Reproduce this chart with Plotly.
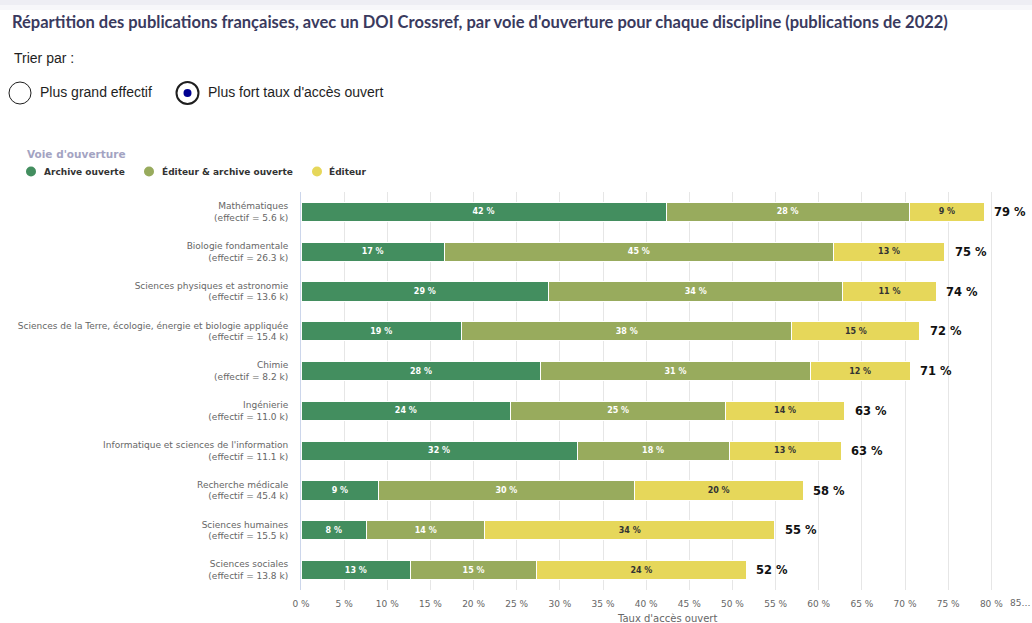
import plotly.graph_objects as go

# ---------------- data ----------------
disciplines = [
    "Mathématiques",
    "Biologie fondamentale",
    "Sciences physiques et astronomie",
    "Sciences de la Terre, écologie, énergie et biologie appliquée",
    "Chimie",
    "Ingénierie",
    "Informatique et sciences de l'information",
    "Recherche médicale",
    "Sciences humaines",
    "Sciences sociales",
]
effectifs_k = ["5.6", "26.3", "13.6", "15.4", "8.2", "11.0", "11.1", "45.4", "15.5", "13.8"]
archive_ouverte = [42.3, 16.6, 28.7, 18.6, 27.8, 24.3, 32.0, 9.0, 7.6, 12.7]
editeur_archive = [28.2, 45.1, 34.1, 38.3, 31.2, 24.9, 17.6, 29.6, 13.7, 14.6]
editeur = [8.7, 12.9, 10.8, 14.8, 11.6, 13.8, 13.0, 19.6, 33.6, 24.3]
series_names = ["Archive ouverte", "Éditeur & archive ouverte", "Éditeur"]
series_colors = ["#438e5f", "#98ab5d", "#e6d75a"]
label_colors = ["#ffffff", "#ffffff", "#333333"]
x_ticks = list(range(0, 85, 5))

title_text = ("Répartition des publications françaises, avec un DOI Crossref, par voie "
              "d'ouverture pour chaque discipline (publications de 2022)")

# ---------------- geometry helpers ----------------
W, H = 1032, 623
L, R, T, B = 301, 0, 192, 33
PW, PH = W - L - R, H - T - B


def px(x):
    return (x - L) / PW


def py(y):
    return (H - B - y) / PH


FONT = "DejaVu Sans"

cats = [f"{d}<br>(effectif = {e} k)" for d, e in zip(disciplines, effectifs_k)]
series_values = [archive_ouverte, editeur_archive, editeur]

fig = go.Figure()
for name, vals, col, tcol in zip(series_names, series_values, series_colors, label_colors):
    fig.add_trace(go.Bar(
        y=cats, x=vals, orientation="h", name=name,
        marker=dict(color=col, line=dict(color="white", width=1)),
        text=[f"{round(v)} %" for v in vals],
        textposition="inside", insidetextanchor="middle", textangle=0,
        constraintext="none",
        textfont=dict(family=FONT, size=8, color=tcol, weight="bold"),
        showlegend=False, hoverinfo="x+name",
    ))

totals = [a + b + c for a, b, c in zip(*series_values)]
annotations = []
for cat, tot in zip(cats, totals):
    annotations.append(dict(
        x=tot, y=cat, xref="x", yref="y", text=f"{round(tot)} %",
        xanchor="left", yanchor="middle", xshift=8, showarrow=False,
        font=dict(family=FONT, size=11.5, color="#111111", weight="bold"),
    ))

# title and sort controls
annotations.append(dict(x=px(10), y=py(22), xref="paper", yref="paper", text=title_text,
                        xanchor="left", yanchor="middle", showarrow=False,
                        font=dict(family="Lato", size=16.5, color="#3a3a5e", weight="bold")))
annotations.append(dict(x=px(12), y=py(58), xref="paper", yref="paper", text="Trier par :",
                        xanchor="left", yanchor="middle", showarrow=False,
                        font=dict(family="Liberation Sans", size=14, color="#1e1e1e")))
annotations.append(dict(x=px(38), y=py(92), xref="paper", yref="paper", text="Plus grand effectif",
                        xanchor="left", yanchor="middle", showarrow=False,
                        font=dict(family="Liberation Sans", size=14, color="#1e1e1e")))
annotations.append(dict(x=px(206), y=py(92), xref="paper", yref="paper",
                        text="Plus fort taux d'accès ouvert",
                        xanchor="left", yanchor="middle", showarrow=False,
                        font=dict(family="Liberation Sans", size=14, color="#1e1e1e")))

# legend (drawn)
annotations.append(dict(x=px(25), y=py(154), xref="paper", yref="paper", text="Voie d'ouverture",
                        xanchor="left", yanchor="middle", showarrow=False,
                        font=dict(family=FONT, size=10.5, color="#a3a3c2", weight="bold")))
legend_circle_x = [31, 149, 317]
legend_text_x = [42, 160, 327]
shapes = []
for name, col, cx, tx in zip(series_names, series_colors, legend_circle_x, legend_text_x):
    shapes.append(dict(type="circle", xref="paper", yref="paper",
                       x0=px(cx - 5), x1=px(cx + 5), y0=py(176.5), y1=py(166.5),
                       fillcolor=col, line=dict(width=0)))
    annotations.append(dict(x=px(tx), y=py(171.5), xref="paper", yref="paper", text=name,
                            xanchor="left", yanchor="middle", showarrow=False,
                            font=dict(family=FONT, size=9, color="#333333", weight="bold")))

# axis extras
annotations.append(dict(x=0.5, y=py(618), xref="paper", yref="paper", text="Taux d'accès ouvert",
                        xanchor="center", yanchor="middle", showarrow=False,
                        font=dict(family=FONT, size=10, color="#666666")))
annotations.append(dict(x=px(1032), y=py(603), xref="paper", yref="paper", text="85…",
                        xanchor="right", yanchor="middle", showarrow=False,
                        font=dict(family=FONT, size=9, color="#666666")))

# header band
shapes.append(dict(type="rect", xref="paper", yref="paper", x0=px(0), x1=px(W),
                   y0=py(5), y1=py(0), fillcolor="#eeeef4", line=dict(width=0), layer="below"))
shapes.append(dict(type="rect", xref="paper", yref="paper", x0=px(0), x1=px(W),
                   y0=py(10), y1=py(5), fillcolor="#f7f7fa", line=dict(width=0), layer="below"))

# radio buttons
shapes.append(dict(type="circle", xref="paper", yref="paper",
                   x0=px(9), x1=px(31), y0=py(104), y1=py(82),
                   line=dict(color="#1e1e1e", width=1), fillcolor="white"))
shapes.append(dict(type="circle", xref="paper", yref="paper",
                   x0=px(176.5), x1=px(198.5), y0=py(104), y1=py(82),
                   line=dict(color="#1e1e1e", width=2), fillcolor="white"))
shapes.append(dict(type="circle", xref="paper", yref="paper",
                   x0=px(183.5), x1=px(191.5), y0=py(97), y1=py(89),
                   line=dict(width=0), fillcolor="#000091"))

fig.update_layout(
    width=W, height=H,
    margin=dict(l=L, r=R, t=T, b=B, autoexpand=False),
    barmode="stack", bargap=0.52,
    plot_bgcolor="white", paper_bgcolor="white",
    font=dict(family=FONT, color="#666666"),
    showlegend=False,
    annotations=annotations, shapes=shapes,
    xaxis=dict(
        range=[0, (W - L) / 8.629], tickvals=x_ticks,
        ticktext=[f"{v} %" for v in x_ticks],
        tickfont=dict(family=FONT, size=9, color="#666666"),
        showgrid=True, gridcolor="#e6e6e6", gridwidth=1,
        zeroline=False, showline=False,
        ticks="outside", ticklen=5, tickcolor="rgba(0,0,0,0)",
    ),
    yaxis=dict(
        categoryorder="array", categoryarray=cats, autorange="reversed",
        tickfont=dict(family=FONT, size=9, color="#666666"),
        showgrid=False, zeroline=False,
        showline=True, linecolor="#ccd6eb", linewidth=1,
        ticks="outside", ticklen=10, tickcolor="rgba(0,0,0,0)",
    ),
)

fig.write_html("out.html", config={"displayModeBar": False},
               post_script="document.body.style.margin='0';")
